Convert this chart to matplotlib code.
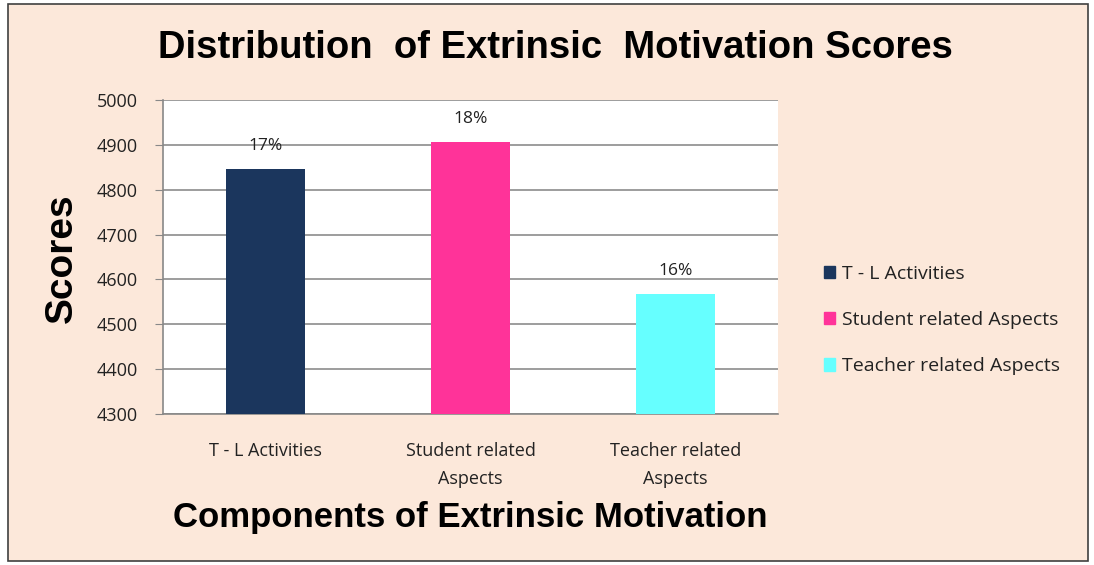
import matplotlib.pyplot as plt
from matplotlib.patches import Rectangle

categories = ['T - L Activities', 'Student related\nAspects', 'Teacher related\nAspects']
legend_names = ['T - L Activities', 'Student related Aspects', 'Teacher related Aspects']
scores = [4846, 4906, 4568]
pct_labels = ['17%', '18%', '16%']
colors = ['#1b365d', '#ff3399', '#66ffff']

bg = '#fce8da'
body = 'Open Sans'
fig = plt.figure(figsize=(10.94, 5.65), dpi=100, facecolor='white')
fig.patches.append(Rectangle((8 / 1094, 4 / 565), 1080 / 1094, 557 / 565,
                             transform=fig.transFigure, facecolor=bg,
                             edgecolor='#404040', linewidth=1.2, zorder=-1))

ax = fig.add_axes([163 / 1094, 151 / 565, 615 / 1094, 314 / 565])
ax.set_facecolor('white')

x = range(len(categories))
bars = ax.bar(x, scores, width=0.39, color=colors, zorder=3)

for b, lab in zip(bars, pct_labels):
    ax.annotate(lab, (b.get_x() + b.get_width() / 2, b.get_height()),
                xytext=(0, 11), textcoords='offset points', ha='center',
                va='bottom', fontsize=12.5, family=body, color='#222222')

ax.set_xlim(-0.5, 2.5)
ax.set_ylim(4300, 5000)
ax.set_yticks(range(4300, 5001, 100))
ax.set_xticks(list(x))
ax.set_xticklabels(categories, fontsize=13, family=body, color='#222222',
                   linespacing=1.75, va='top')
ax.tick_params(axis='x', length=0, pad=20)
ax.tick_params(axis='y', length=6, color='#888888', labelsize=13,
               labelcolor='#222222', pad=12)
for t in ax.get_yticklabels():
    t.set_family(body)
ax.yaxis.grid(True, color='#8c8c8c', linewidth=1.2, zorder=0)
for s in ['top', 'right']:
    ax.spines[s].set_visible(False)
for s in ['left', 'bottom']:
    ax.spines[s].set_color('#888888')
    ax.spines[s].set_linewidth(1.2)

fig.text(555 / 1094, 1 - 48 / 565, 'Distribution  of Extrinsic  Motivation Scores',
         ha='center', va='center', fontsize=27.5, fontweight='bold',
         family='Liberation Sans')
fig.text(470 / 1094, 1 - 518 / 565, 'Components of Extrinsic Motivation',
         ha='center', va='center', fontsize=25, fontweight='bold',
         family='Liberation Sans')
fig.text(62 / 1094, 1 - 258 / 565, 'Scores', ha='center', va='center',
         rotation=90, fontsize=28, fontweight='bold', family='Liberation Sans')

handles = [Rectangle((0, 0), 1, 1, color=c) for c in colors]
leg = fig.legend(handles, legend_names, loc='center left',
                 bbox_to_anchor=(806 / 1094, 1 - 320 / 565), frameon=False,
                 handlelength=0.6, handleheight=0.6, handletextpad=0.35,
                 labelspacing=1.45, prop={'family': body, 'size': 14})
for t in leg.get_texts():
    t.set_color('#222222')

fig.savefig('out.png', dpi=100, facecolor='white')
